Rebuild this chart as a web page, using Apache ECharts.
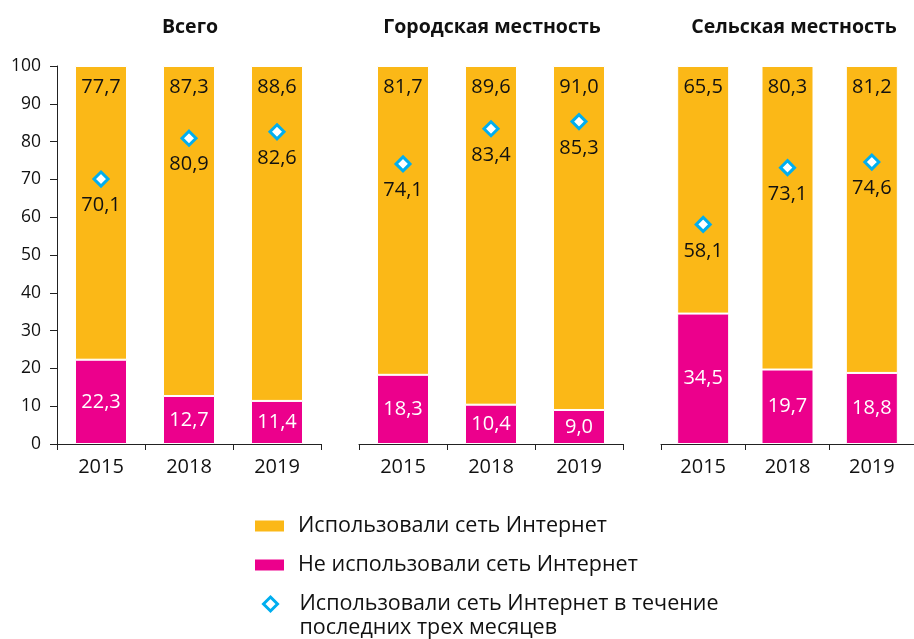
<!DOCTYPE html>
<html>
<head>
<meta charset="utf-8">
<script src="https://cdn.jsdelivr.net/npm/echarts@6/dist/echarts.min.js"></script>
<style>
  html, body { margin: 0; padding: 0; background: #fff; }
  #chart { width: 914px; height: 639px; }
</style>
</head>
<body>
<div id="chart"></div>
<script>
// данные
var categories = ['2015', '2018', '2019'];
var panelTitles = ['Всего', 'Городская местность', 'Сельская местность'];
var notUsed = [[22.3, 12.7, 11.4], [18.3, 10.4, 9.0], [34.5, 19.7, 18.8]];
var used = [[77.7, 87.3, 88.6], [81.7, 89.6, 91.0], [65.5, 80.3, 81.2]];
var last3m = [[70.1, 80.9, 82.6], [74.1, 83.4, 85.3], [58.1, 73.1, 74.6]];

var NAME_USED = 'Использовали сеть Интернет';
var NAME_NOT = 'Не использовали сеть Интернет';
var NAME_3M = 'Использовали сеть Интернет в течение последних трех месяцев';

var ORANGE = '#FBB817', PINK = '#EC008C', CYAN = '#00AEEF';
var FONT = '"Open Sans", "Noto Sans", sans-serif';

function fmt(v) { return v.toFixed(1).replace('.', ','); }

var chart = echarts.init(document.getElementById('chart'));

var gridLefts = [57, 359, 661];
var grids = [], xAxes = [], yAxes = [], titles = [], series = [];

for (var i = 0; i < 3; i++) {
    grids.push({ left: gridLefts[i], top: 66, width: 264, height: 378 });
    titles.push({
        text: panelTitles[i],
        left: gridLefts[i] + 128,
        top: 12,
        textAlign: 'center',
        textStyle: { fontFamily: FONT, fontSize: 19.5, fontWeight: 'bold', color: '#111' }
    });
    xAxes.push({
        type: 'category', gridIndex: i, data: categories,
        axisLine: { lineStyle: { color: '#222', width: 1 } },
        axisTick: { show: true, length: 6, lineStyle: { color: '#222' } },
        axisLabel: { color: '#111', fontSize: 20, fontFamily: FONT, margin: 13 }
    });
    yAxes.push({
        type: 'value', gridIndex: i, min: 0, max: 100, interval: 10,
        show: i === 0,
        axisLine: { show: true, lineStyle: { color: '#222' } },
        axisTick: { show: true, length: 7, lineStyle: { color: '#222' } },
        axisLabel: { color: '#111', fontSize: 17.5, fontFamily: FONT, margin: 16 },
        splitLine: { show: false }
    });
    series.push({
        name: NAME_NOT, type: 'bar', stack: 'p' + i, xAxisIndex: i, yAxisIndex: i,
        data: notUsed[i], barWidth: 52,
        itemStyle: { color: PINK, borderColor: '#fff', borderWidth: 1 },
        label: {
            show: true, position: 'inside', color: '#fff', fontSize: 20, fontFamily: FONT,
            textBorderWidth: 0,
            formatter: function (p) { return fmt(p.value); }
        }
    });
    series.push({
        name: NAME_USED, type: 'bar', stack: 'p' + i, xAxisIndex: i, yAxisIndex: i,
        data: used[i], barWidth: 52,
        itemStyle: { color: ORANGE, borderColor: '#fff', borderWidth: 1 },
        label: {
            show: true, position: 'insideTop', distance: 11, color: '#111', fontSize: 20, fontFamily: FONT,
            formatter: function (p) { return fmt(p.value); }
        }
    });
    series.push({
        name: NAME_3M, type: 'scatter', xAxisIndex: i, yAxisIndex: i,
        data: last3m[i], symbol: 'diamond', symbolSize: 14, z: 5,
        itemStyle: { color: '#fff', borderColor: CYAN, borderWidth: 3, opacity: 1 },
        label: {
            show: true, position: 'bottom', distance: 8, color: '#111', fontSize: 20, fontFamily: FONT,
            textBorderWidth: 0,
            formatter: function (p) { return fmt(p.value); }
        }
    });
}

var legendText = { fontFamily: FONT, fontSize: 21.5, color: '#111', lineHeight: 24, padding: [0, 0, 0, 8] };

var option = {
    animation: false,
    backgroundColor: '#fff',
    title: titles,
    grid: grids,
    xAxis: xAxes,
    yAxis: yAxes,
    legend: [
        { data: [NAME_USED], left: 253, top: 514, padding: 0, itemWidth: 31, itemHeight: 13,
          icon: 'rect', textStyle: legendText, selectedMode: false },
        { data: [NAME_NOT], left: 253, top: 553, padding: 0, itemWidth: 31, itemHeight: 13,
          icon: 'rect', textStyle: legendText, selectedMode: false },
        { data: [NAME_3M], left: 262, top: 568, padding: 0, itemWidth: 14, itemHeight: 14,
          icon: 'diamond',
          itemStyle: { color: '#fff', borderColor: CYAN, borderWidth: 3, opacity: 1 },
          textStyle: { fontFamily: FONT, fontSize: 21.5, color: '#111', lineHeight: 24, padding: [0, 0, 0, 17] },
          formatter: function () { return '\u00a0\nИспользовали сеть Интернет в течение\nпоследних трех месяцев'; },
          selectedMode: false }
    ],
    series: series
};

chart.setOption(option);
</script>
</body>
</html>
